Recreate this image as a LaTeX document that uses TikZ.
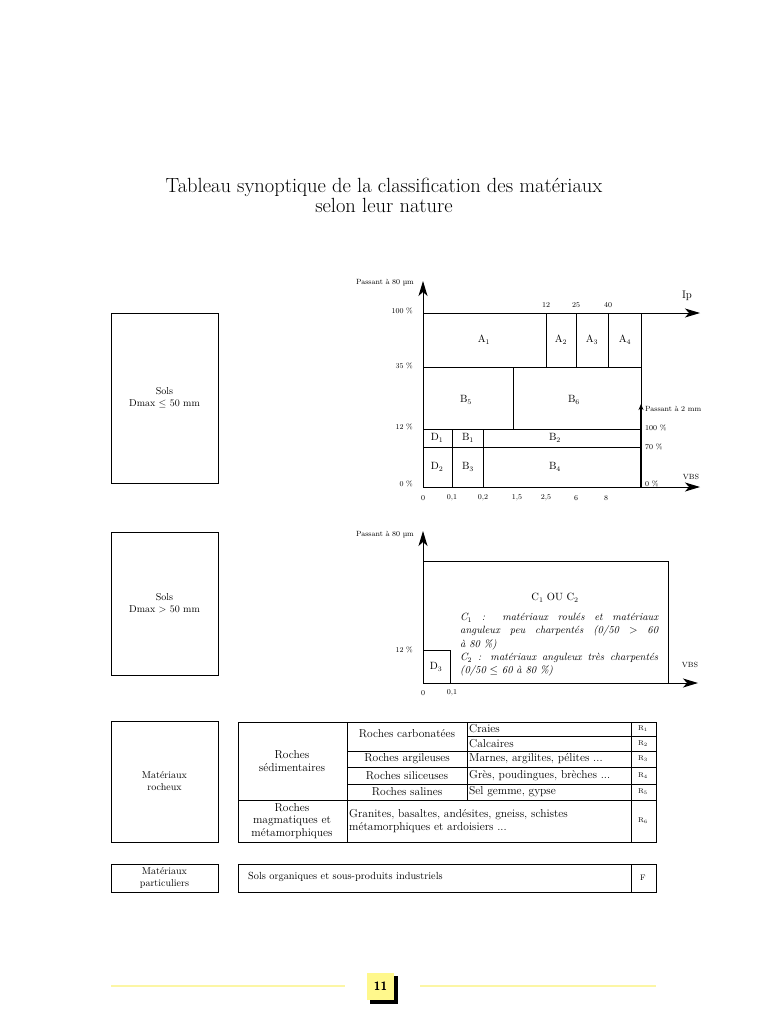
\documentclass[tikz,border=0pt]{standalone}
\usepackage{amsmath}
\usepackage{amssymb}
\usepackage{fontspec}
\usepackage{tikz}
\usetikzlibrary{arrows.meta, positioning}
\definecolor{pageyellow}{RGB}{255,248,140}
\definecolor{lineyellow}{RGB}{252,246,165}

\begin{document}
\begin{tikzpicture}[x=1pt,y=-1pt,
 sidebox/.style={rectangle,draw=black,line width=1pt,inner sep=0pt,
   minimum width=107pt,align=center,font=\fontsize{10}{12}\selectfont},
 frame/.style={line width=0.9pt},
 axisarrow/.style={line width=1pt,-{Stealth[length=15pt,width=9pt,inset=4pt]}},
 scalelab/.style={font=\fontsize{7.5}{9}\selectfont,inner sep=1pt},
 cell/.style={font=\fontsize{10.5}{12}\selectfont,inner sep=0pt},
 tabtext/.style={font=\fontsize{11.5}{12.5}\selectfont,inner sep=0pt,align=center},
 rlabel/.style={font=\fontsize{7}{8}\selectfont,inner sep=0pt}]
 \useasboundingbox[fill=white] (0,0) rectangle (768,1024);

 % titre
 \node[font=\fontsize{20.5}{20}\selectfont,align=center] (titre) at (384,195)
   {Tableau synoptique de la classification des matériaux\\selon leur nature};

 % colonne de gauche
 \node[sidebox,minimum height=170pt] (solsfins) at (164.5,398)
   {Sols\\Dmax $\leq$ 50 mm};
 \node[sidebox,minimum height=143pt] (solsgros) at (164.5,603.5)
   {Sols\\Dmax $>$ 50 mm};
 \node[sidebox,minimum height=121pt] (rocheux) at (164.5,781.5)
   {Matériaux\\rocheux};
 \node[sidebox,minimum height=28pt] (particuliers) at (164.5,878)
   {Matériaux\\particuliers};

 % abaque Dmax <= 50 mm
 \coordinate (o1) at (423,487);
 \coordinate (ytop1) at (423,281);
 \coordinate (xend1) at (700,487);
 \coordinate (ip0) at (423,313);
 \coordinate (ipend) at (700,313);
 \draw[axisarrow] (o1) -- (ytop1);
 \draw[axisarrow] (o1) -- (xend1);
 \draw[axisarrow] (ip0) -- (ipend);
 \draw[frame] (641,313) -- (641,429);
 \draw[frame] (423,367) -- (641,367);
 \draw[frame] (546,313) -- (546,367);
 \draw[frame] (576,313) -- (576,367);
 \draw[frame] (608,313) -- (608,367);
 \draw[frame] (513,367) -- (513,429);
 \draw[frame] (423,429) -- (641,429);
 \draw[frame] (423,447) -- (641,447);
 \draw[frame] (452,429) -- (452,487);
 \draw[frame] (483,429) -- (483,487);
 \coordinate (p2bas) at (641,487);
 \coordinate (p2haut) at (641,404);
 \draw[line width=1.8pt,-{Stealth[length=6pt,width=5pt]}] (p2bas) -- (p2haut);

 \node[scalelab] (pass80a) at (385,283) {Passant à 80 µm};
 \node[scalelab,anchor=east] (y100) at (414,311) {100 \%};
 \node[scalelab,anchor=east] (y35) at (414,366) {35 \%};
 \node[scalelab,anchor=east] (y12) at (414,427) {12 \%};
 \node[scalelab,anchor=east] (y0) at (414,484) {0 \%};
 \node[scalelab] (ip12) at (546,305) {12};
 \node[scalelab] (ip25) at (576,305) {25};
 \node[scalelab] (ip40) at (608,305) {40};
 \node[font=\fontsize{11}{12}\selectfont] (iplab) at (687,296) {Ip};
 \node[scalelab,anchor=west] (pass2) at (644,409) {Passant à 2 mm};
 \node[scalelab,anchor=west] (p100) at (644,428) {100 \%};
 \node[scalelab,anchor=west] (p70) at (644,447) {70 \%};
 \node[scalelab,anchor=west] (p0) at (644,484) {0 \%};
 \node[scalelab] (vbs1) at (691,477) {VBS};
 \node[scalelab] (v0) at (423,498) {0};
 \node[scalelab] (v01) at (452,498) {0,1};
 \node[scalelab] (v02) at (483,498) {0,2};
 \node[scalelab] (v15) at (517,498) {1,5};
 \node[scalelab] (v25) at (546,498) {2,5};
 \node[scalelab] (v6) at (576,498) {6};
 \node[scalelab] (v8) at (606,498) {8};

 \node[cell] (A1) at (484,340) {A$_1$};
 \node[cell] (A2) at (561,340) {A$_2$};
 \node[cell] (A3) at (592,340) {A$_3$};
 \node[cell] (A4) at (625,340) {A$_4$};
 \node[cell] (B5) at (466,400) {B$_5$};
 \node[cell] (B6) at (574,400) {B$_6$};
 \node[cell] (D1) at (437,438) {D$_1$};
 \node[cell] (B1) at (468,438) {B$_1$};
 \node[cell] (B2) at (555,438) {B$_2$};
 \node[cell] (D2) at (437,467) {D$_2$};
 \node[cell] (B3) at (468,467) {B$_3$};
 \node[cell] (B4) at (555,467) {B$_4$};

 % abaque Dmax > 50 mm
 \coordinate (o2) at (423,683);
 \coordinate (ytop2) at (423,531);
 \coordinate (xend2) at (698,683);
 \draw[axisarrow] (o2) -- (ytop2);
 \draw[axisarrow] (o2) -- (xend2);
 \draw[frame] (423,561) -- (668,561) -- (668,683);
 \draw[frame] (423,650) -- (450,650) -- (450,683);

 \node[scalelab] (pass80b) at (385,535) {Passant à 80 µm};
 \node[scalelab,anchor=east] (y12b) at (414,650) {12 \%};
 \node[scalelab] (vbs2) at (690,665) {VBS};
 \node[scalelab] (w0) at (423,693) {0};
 \node[scalelab] (w01) at (452,693) {0,1};
 \node[cell] (D3) at (436,667) {D$_3$};
 \node[cell] (C1C2) at (555,598) {C$_1$ OU C$_2$};
 \node[anchor=north west,inner sep=0pt,text width=198pt,align=justify,
   font=\fontsize{10.5}{13.3}\selectfont\itshape] (cdef) at (460,613)
   {C$_1$ : matériaux roulés et matériaux\linebreak
    anguleux peu charpentés (0/50 $>$ 60\linebreak
    à 80 \%)\\
    C$_2$ : matériaux anguleux très charpentés\linebreak
    (0/50 $\leq$ 60 à 80 \%)};

 % tableau des matériaux rocheux
 \draw[frame] (238,722) rectangle (656,842);
 \draw[frame] (347,722) -- (347,842);
 \draw[frame] (467,722) -- (467,800);
 \draw[frame] (631,722) -- (631,842);
 \draw[frame] (467,736) -- (656,736);
 \draw[frame] (347,751) -- (656,751);
 \draw[frame] (347,767) -- (656,767);
 \draw[frame] (347,784) -- (656,784);
 \draw[frame] (238,800) -- (656,800);

 \node[tabtext] (sedim) at (292,761) {Roches\\sédimentaires};
 \node[tabtext] (carbo) at (407,734) {Roches carbonatées};
 \node[tabtext] (argil) at (407,759) {Roches argileuses};
 \node[tabtext] (silic) at (407,775.5) {Roches siliceuses};
 \node[tabtext] (salin) at (407,792) {Roches salines};
 \node[tabtext,anchor=west] (craies) at (469,729) {Craies};
 \node[tabtext,anchor=west] (calc) at (469,744) {Calcaires};
 \node[tabtext,anchor=west] (marnes) at (469,759) {Marnes, argilites, pélites ...};
 \node[tabtext,anchor=west] (gres) at (469,775.5) {Grès, poudingues, brèches ...};
 \node[tabtext,anchor=west] (sel) at (469,792) {Sel gemme, gypse};
 \node[rlabel] (R1) at (643,729) {R$_1$};
 \node[rlabel] (R2) at (643,744) {R$_2$};
 \node[rlabel] (R3) at (643,759) {R$_3$};
 \node[rlabel] (R4) at (643,775.5) {R$_4$};
 \node[rlabel] (R5) at (643,792) {R$_5$};
 \node[tabtext] (magma) at (292,821)
   {Roches\\magmatiques et\\métamorphiques};
 \node[tabtext,anchor=west,align=left] (granites) at (349,821)
   {Granites, basaltes, andésites, gneiss, schistes\\
    métamorphiques et ardoisiers ...};
 \node[rlabel] (R6) at (643,821) {R$_6$};

 \draw[frame] (238,864) rectangle (656,892);
 \draw[frame] (631,864) -- (631,892);
 \node[tabtext,anchor=west,font=\fontsize{10.3}{11}\selectfont] (organ) at (248,877)
   {Sols organiques et sous-produits industriels};
 \node[rlabel,font=\fontsize{8}{9}\selectfont] (F) at (643,878) {F};

 % pied de page
 \coordinate (fl1) at (111,986);
 \coordinate (fl2) at (345,986);
 \coordinate (fr1) at (420,986);
 \coordinate (fr2) at (656,986);
 \draw[lineyellow,line width=2.2pt] (fl1) -- (fl2);
 \draw[lineyellow,line width=2.2pt] (fr1) -- (fr2);
 \fill[black] (370,976) rectangle (398,1004);
 \node[fill=pageyellow,minimum width=27pt,minimum height=27pt,inner sep=0pt,
   font=\sffamily\bfseries\fontsize{12}{14}\selectfont] (page) at (380.5,986.5) {11};
\end{tikzpicture}
\end{document}
